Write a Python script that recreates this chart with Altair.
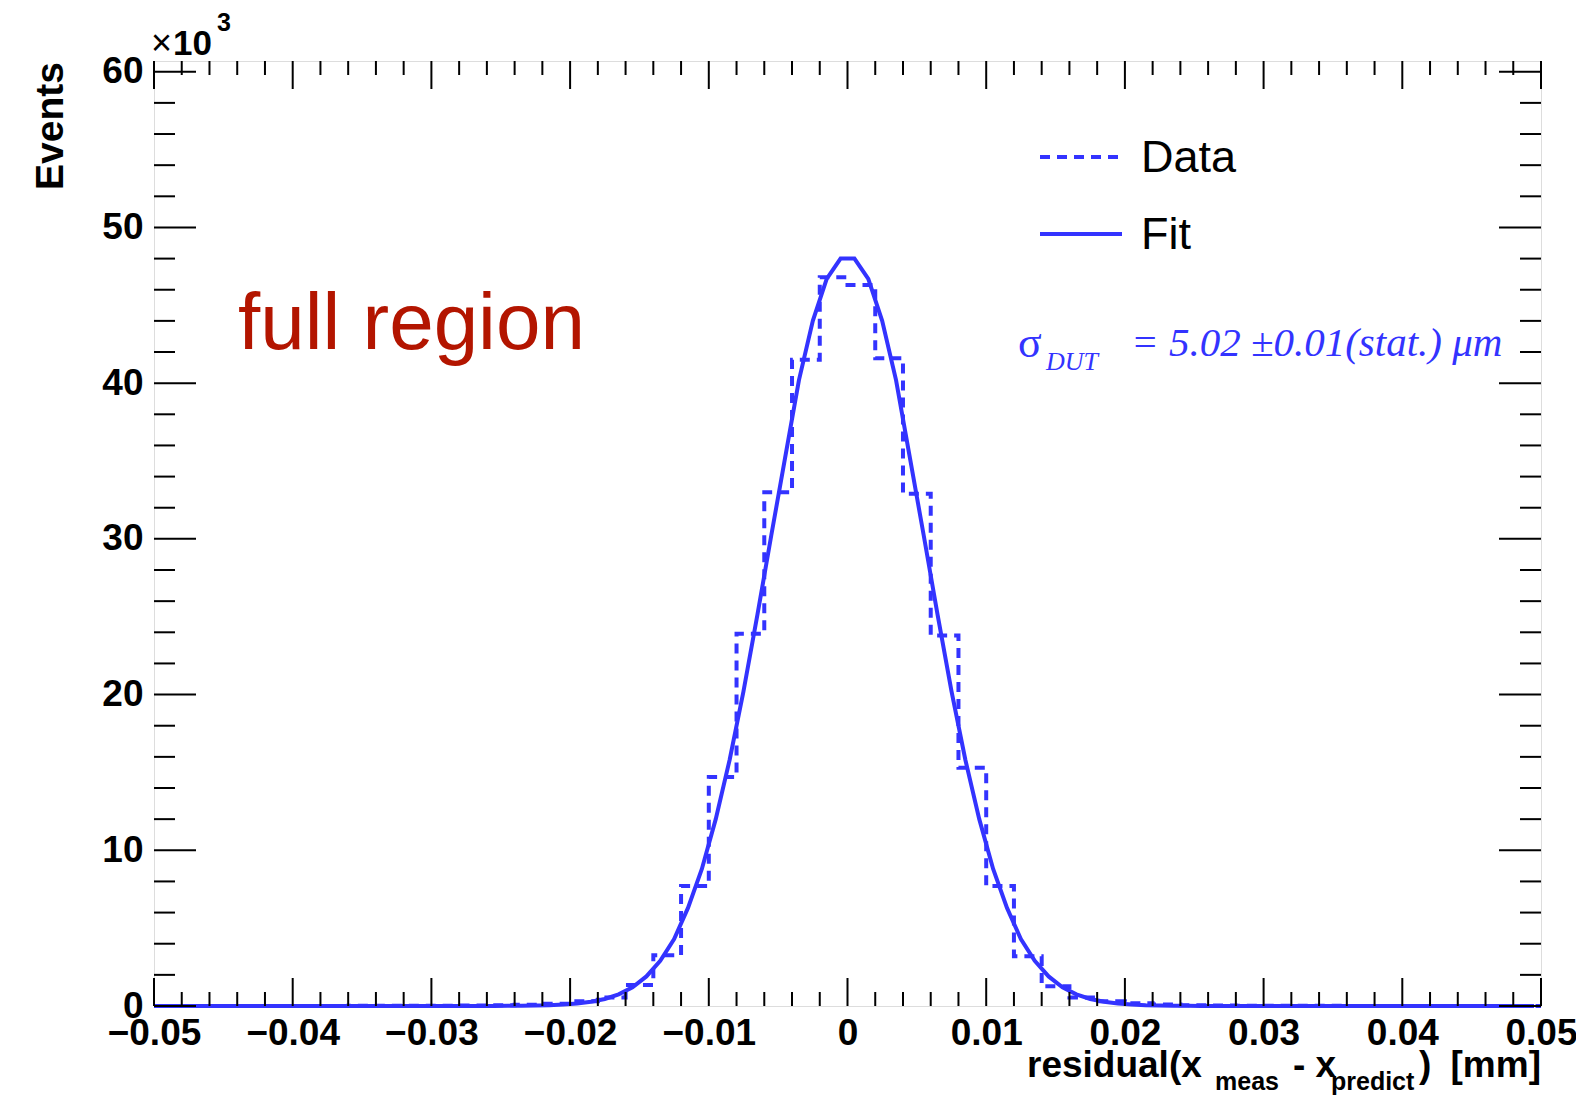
import altair as alt
import pandas as pd

# ---------------- data (in units of 10^3 events) ----------------
bin_left = [round(-0.05 + 0.002 * i, 3) for i in range(50)]
bin_counts = [
    0.0, 0.0, 0.0, 0.0, 0.0, 0.0, 0.0, 0.01, 0.01, 0.01,
    0.02, 0.03, 0.05, 0.08, 0.15, 0.30, 0.55, 1.35, 3.26, 7.70,
    14.7, 23.9, 33.0, 41.5, 46.8, 46.3, 41.6, 32.9, 23.8, 15.3,
    7.70, 3.20, 1.27, 0.54, 0.30, 0.18, 0.09, 0.05, 0.03, 0.02,
    0.01, 0.01, 0.01, 0.0, 0.0, 0.0, 0.0, 0.0, 0.0, 0.0,
]
x_max = 0.05

fit_x = [round(-0.0495 + 0.001 * i, 4) for i in range(100)]
fit_y = [
    0, 0, 0, 0, 0, 0, 0, 0, 0, 0,
    0, 0, 0, 0, 0, 0, 0, 0, 0, 0,
    0, 0, 0, 0, 0,
    0.01, 0.02, 0.03, 0.05, 0.09, 0.16, 0.27, 0.45, 0.75, 1.2,
    1.9, 2.9, 4.3, 6.3, 8.8, 12.0, 15.8, 20.2, 25.1, 30.2,
    35.2, 40.2, 44.0, 46.7, 48.0,
    48.0, 46.7, 44.0, 40.2, 35.2, 30.2, 25.1, 20.2, 15.8, 12.0,
    8.8, 6.3, 4.3, 2.9, 1.9, 1.2, 0.75, 0.45, 0.27, 0.16,
    0.09, 0.05, 0.03, 0.02, 0.01,
    0, 0, 0, 0, 0, 0, 0, 0, 0, 0,
    0, 0, 0, 0, 0, 0, 0, 0, 0, 0,
    0, 0, 0, 0, 0,
]

x_major = [-0.05, -0.04, -0.03, -0.02, -0.01, 0, 0.01, 0.02, 0.03, 0.04, 0.05]
x_minor = [round(-0.05 + 0.002 * i, 3) for i in range(51) if i % 5 != 0]
y_major = [0, 10, 20, 30, 40, 50, 60]
y_minor = [v for v in range(0, 61, 2) if v % 10 != 0]

legend_labels = ["Data", "Fit"]
x_title_parts = ["residual(x", "meas", "- x", "predict", ")", "[mm]"]
sigma_parts = ["σ", "DUT", "= 5.02 ±0.01(stat.)  μm"]
region_text = "full region"
y_title = "Events"

# ---------------- style ----------------
W, H = 1387, 945
BLUE = "#3333ff"
RED = "#b31500"
SANS = "Liberation Sans"
SERIF = "Liberation Serif"

xs = alt.Scale(domain=[-0.05, 0.05], nice=False, zero=False)
ys = alt.Scale(domain=[0, 60.69], nice=False, zero=False)

hist_df = pd.DataFrame({"x": bin_left + [x_max], "y": bin_counts + [bin_counts[-1]]})
fit_df = pd.DataFrame({"x": fit_x, "y": fit_y})
one = pd.DataFrame({"a": [0]})

x_axis = alt.Axis(
    values=x_major, labelExpr="datum.value == 0 ? '0' : format(datum.value, '.2f')",
    labelFont=SANS, labelFontWeight="bold", labelFontSize=37, labelColor="black",
    labelPadding=9, labelFlush=False, labelOverlap=False, labelBound=False,
    ticks=False, domain=False, grid=False, title=None,
)
y_axis = alt.Axis(
    values=y_major, format="d",
    labelFont=SANS, labelFontWeight="bold", labelFontSize=37, labelColor="black",
    labelPadding=11, labelFlush=False, labelOverlap=False, labelBound=False,
    ticks=False, domain=False, grid=False, title=None,
)

hist = alt.Chart(hist_df).mark_line(
    interpolate="step-after", color=BLUE, strokeWidth=4, strokeDash=[10, 7]
).encode(x=alt.X("x:Q", scale=xs, axis=x_axis), y=alt.Y("y:Q", scale=ys, axis=y_axis))

fit = alt.Chart(fit_df).mark_line(color=BLUE, strokeWidth=4).encode(
    x=alt.X("x:Q", scale=xs), y=alt.Y("y:Q", scale=ys)
)

def xticks(vals, length):
    d = pd.DataFrame({"p": vals})
    bot = alt.Chart(d).mark_rule(color="black", strokeWidth=2).encode(
        x=alt.X("p:Q", scale=xs), y=alt.value(H), y2=alt.value(H - length))
    top = alt.Chart(d).mark_rule(color="black", strokeWidth=2).encode(
        x=alt.X("p:Q", scale=xs), y=alt.value(0), y2=alt.value(length))
    return [bot, top]

def yticks(vals, length):
    d = pd.DataFrame({"p": vals})
    left = alt.Chart(d).mark_rule(color="black", strokeWidth=2).encode(
        y=alt.Y("p:Q", scale=ys), x=alt.value(0), x2=alt.value(length))
    right = alt.Chart(d).mark_rule(color="black", strokeWidth=2).encode(
        y=alt.Y("p:Q", scale=ys), x=alt.value(W), x2=alt.value(W - length))
    return [left, right]

ticks = xticks(x_major, 28) + xticks(x_minor, 14) + yticks(y_major, 42) + yticks(y_minor, 21)

def txt(s, x, y, size, font=SANS, weight="normal", style="normal", color="black",
        align="left", baseline="alphabetic", angle=0):
    return alt.Chart(one).mark_text(
        text=s, font=font, fontSize=size, fontWeight=weight, fontStyle=style, color=color,
        align=align, baseline=baseline, angle=angle,
    ).encode(x=alt.value(x), y=alt.value(y))

def seg(x1, x2, y, dash=None):
    kw = dict(color=BLUE, strokeWidth=4)
    if dash:
        kw["strokeDash"] = dash
    return alt.Chart(one).mark_rule(**kw).encode(x=alt.value(x1), x2=alt.value(x2), y=alt.value(y))

texts = [
    # legend
    seg(886, 967, 96, [10, 7]),
    seg(886, 968, 173),
    txt(legend_labels[0], 987, 97, 45, baseline="middle"),
    txt(legend_labels[1], 987, 174, 45, baseline="middle"),
    # sigma annotation
    txt(sigma_parts[0], 864, 296, 44, font=SERIF, color=BLUE),
    txt(sigma_parts[1], 892, 309, 26, font=SERIF, style="italic", color=BLUE),
    txt(sigma_parts[2], 977, 295, 41, font=SERIF, style="italic", color=BLUE),
    # region label
    txt(region_text, 84, 288, 80, color=RED),
    # y exponent and title
    txt("×", -3, -6, 36),
    txt("10", 19, -6, 35, weight="bold"),
    txt("3", 63, -30, 25, weight="bold"),
    txt(y_title, -91, 1, 39, weight="bold", align="right", angle=270),
    # x title
    txt(x_title_parts[0], 873, 1016, 37, weight="bold"),
    txt(x_title_parts[1], 1061, 1029, 25, weight="bold"),
    txt(x_title_parts[2], 1139, 1016, 37, weight="bold"),
    txt(x_title_parts[3], 1177, 1029, 25, weight="bold"),
    txt(x_title_parts[4], 1265, 1016, 37, weight="bold"),
    txt(x_title_parts[5], W, 1016, 37, weight="bold", align="right"),
]

chart = alt.layer(hist, fit, *ticks, *texts).properties(
    width=W, height=H,
    autosize=alt.AutoSizeParams(type="none"),
    padding={"left": 146, "top": 53, "right": 35, "bottom": 92},
).configure_view(stroke="black", strokeWidth=3).configure(background="white")

chart.save("out.html", embed_options={"renderer": "svg", "actions": False})
